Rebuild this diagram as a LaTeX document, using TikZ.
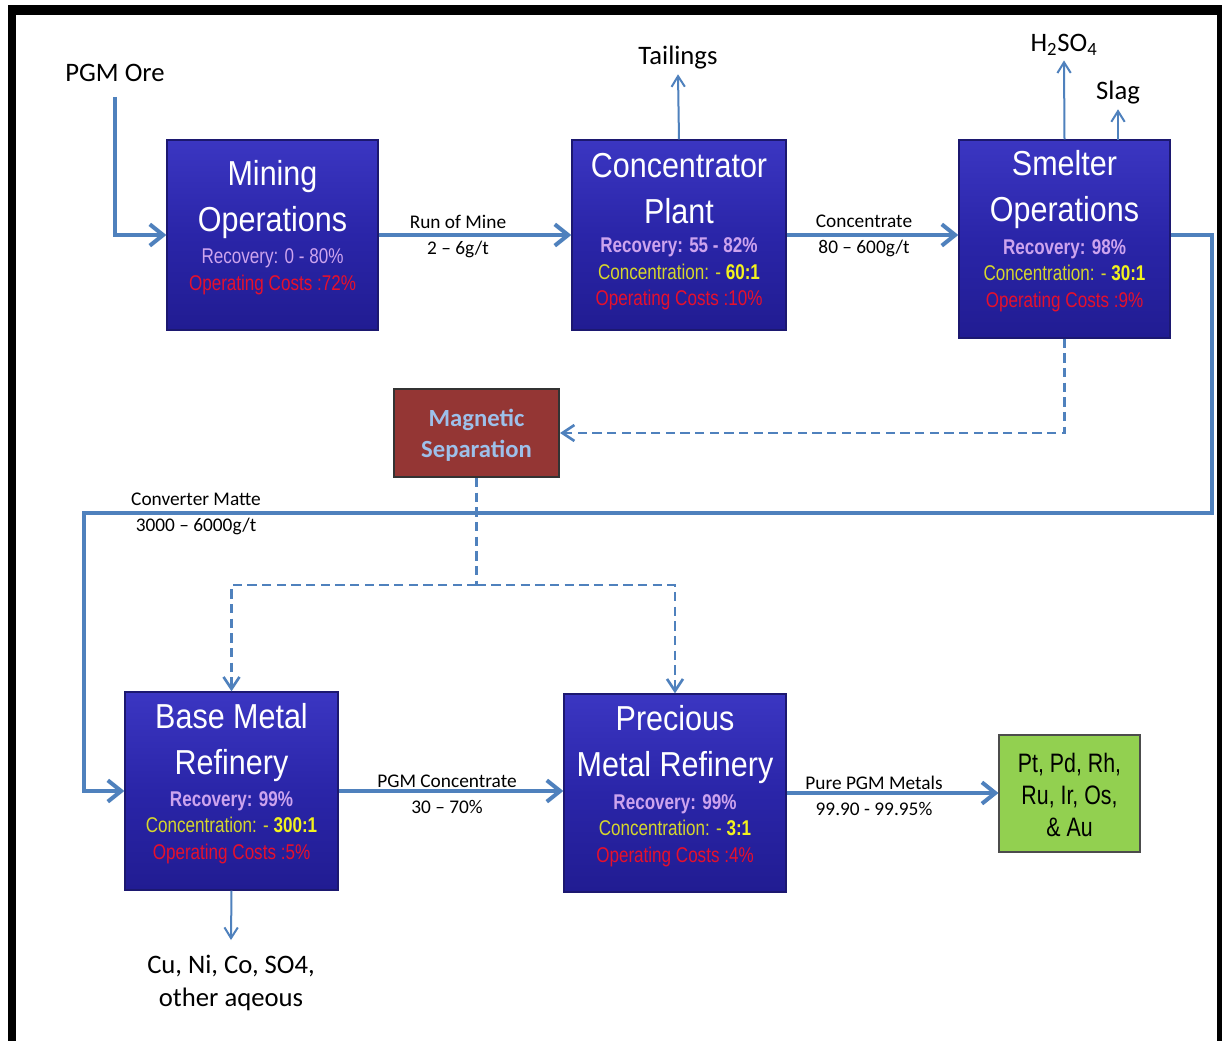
\documentclass[tikz,border=0pt]{standalone}
\usepackage{fontspec}
\setmainfont{Carlito}
\newfontfamily\titlefont[FakeStretch=0.88]{Liberation Sans}
\newfontfamily\subfont[FakeStretch=0.8]{Liberation Sans}
\usetikzlibrary{arrows.meta,calc}
\definecolor{flow}{HTML}{4F81BD}
\definecolor{boxtop}{HTML}{3B36C2}
\definecolor{boxmid}{HTML}{2A25A8}
\definecolor{boxbot}{HTML}{211C92}
\definecolor{boxedge}{HTML}{1C1870}
\definecolor{recov}{HTML}{CDA4EE}
\definecolor{concy}{HTML}{D6D62C}
\definecolor{concb}{HTML}{F2F21E}
\definecolor{opred}{HTML}{E6102C}
\definecolor{magfill}{HTML}{943634}
\definecolor{magtext}{HTML}{9DC0EA}
\definecolor{greenfill}{HTML}{92D050}
\tikzset{
  procbox/.style={draw=boxedge, line width=1pt, top color=boxtop, bottom color=boxbot, middle color=boxmid, inner sep=0pt},
  titletext/.style={text=white, align=center, font=\titlefont\fontsize{26}{34.5}\selectfont},
  subtext/.style={align=center, font=\subfont\fontsize{16}{20}\selectfont},
  flowlabel/.style={align=center, font=\fontsize{14.5}{19.5}\selectfont, text=black},
  outlabel/.style={align=center, font=\fontsize{20}{25}\selectfont, text=black},
  thickflow/.style={draw=flow, line width=3pt, -{Straight Barb[length=10pt,width=16pt]}},
  thinflow/.style={draw=flow, line width=1.5pt, -{Straight Barb[length=8pt,width=10pt]}},
  dashflow/.style={draw=flow, line width=2pt, dash pattern=on 7pt off 4pt, -{Straight Barb[length=9pt,width=12pt]}},
  dashline/.style={draw=flow, line width=2pt, dash pattern=on 7pt off 4pt}
}
\newcommand{\subblock}[3]{\textcolor{recov}{#1}\\\textcolor{concy}{#2}\\\textcolor{opred}{#3}}
\begin{document}
\begin{tikzpicture}[x=0.75pt,y=-0.75pt]
\fill[white] (0,0) rectangle (1222,1041);
\useasboundingbox (0,0) rectangle (1222,1041);
% frame
\fill[black] (8,5) rectangle (1222,15);
\fill[black] (8,5) rectangle (16,1041);
\fill[black] (1217,5) rectangle (1222,1041);

% boxes
\node[procbox, minimum width=158.25pt, minimum height=142.5pt] (mine) at (272.5,235) {};
\node[procbox, minimum width=160.5pt, minimum height=142.5pt] (conc) at (679,235) {};
\node[procbox, minimum width=158.25pt, minimum height=148.5pt] (smelt) at (1064.5,239) {};
\node[procbox, minimum width=159.75pt, minimum height=148.5pt] (base) at (231.5,791) {};
\node[procbox, minimum width=166.5pt, minimum height=148.5pt] (prec) at (675,793) {};
\node[draw=black!80, line width=1.5pt, fill=magfill, minimum width=123.75pt, minimum height=66pt, inner sep=0pt] (mag) at (476.5,433) {};
\node[draw=black!70, line width=0.8pt, fill=greenfill, minimum width=105.75pt, minimum height=87.75pt, inner sep=0pt] (green) at (1069.5,793.5) {};

% box texts
\node[titletext] (mineT) at (272.5,200) {Mining\\Operations};
\node[subtext] (mineS) at (272.5,272) {\textcolor{recov}{Recovery: 0 - 80\%}\\\textcolor{opred}{Operating Costs :72\%}};
\node[titletext] (concT) at (679,188.5) {Concentrator\\Plant};
\node[subtext] (concS) at (679,274) {\subblock{\bfseries Recovery: 55 - 82\%}{Concentration: - {\bfseries\color{concb}60:1}}{Operating Costs :10\%}};
\node[titletext] (smeltT) at (1064.5,190) {Smelter\\Operations};
\node[subtext] (smeltS) at (1064.5,275.5) {\subblock{\bfseries Recovery: 98\%}{Concentration: - {\bfseries\color{concb}30:1}}{Operating Costs :9\%}};
\node[titletext] (baseT) at (231.5,743) {Base Metal\\Refinery};
\node[subtext] (baseS) at (231.5,827.5) {\subblock{\bfseries Recovery: 99\%}{Concentration: - {\bfseries\color{concb}300:1}}{Operating Costs :5\%}};
\node[titletext] (precT) at (675,745) {Precious\\Metal Refinery};
\node[subtext] (precS) at (675,830.5) {\subblock{\bfseries Recovery: 99\%}{Concentration: - {\bfseries\color{concb}3:1}}{Operating Costs :4\%}};
\node[align=center, text=magtext, font=\bfseries\fontsize{18.5}{23}\selectfont] (magT) at (476.5,435) {Magnetic\\Separation};
\node[align=center, text=black, font=\subfont\fontsize{20}{24}\selectfont] (greenT) at (1069.5,795) {Pt, Pd, Rh,\\Ru, Ir, Os,\\\& Au};

% outside labels
\node[outlabel] (ore) at (115,73) {PGM Ore};
\node[outlabel] (tail) at (678,58) {Tailings};
\node[outlabel] (h2so4) at (1064,45) {H\textsubscript{2}SO\textsubscript{4}};
\node[outlabel] (slag) at (1118,93) {Slag};
\node[outlabel] (cu) at (231,983) {Cu, Ni, Co, SO4,\\other aqeous};

% flow labels
\node[flowlabel] (l1) at (458,237) {Run of Mine\\2 -- 6g/t};
\node[flowlabel] (l2) at (864,236) {Concentrate\\80 -- 600g/t};
\node[flowlabel] (l3) at (196,514) {Converter Matte\\3000 -- 6000g/t};
\node[flowlabel] (l4) at (447,794) {PGM Concentrate\\30 -- 70\%};
\node[flowlabel] (l5) at (874,796) {Pure PGM Metals\\99.90 - 99.95\%};

% coordinates
\coordinate (oreS) at (115,97);
\coordinate (cR) at (1212,513);
\coordinate (cL) at (84,513);
\coordinate (split) at (476.5,585);
\coordinate (slagB) at (1118,140);
\coordinate (cuT) at (231,940);

% thick flows
\draw[thickflow] (oreS) |- (mine.west);
\draw[thickflow] (mine.east) -- (conc.west);
\draw[thickflow] (conc.east) -- (smelt.west |- conc.east);
\draw[thickflow] (smelt.east |- conc.east) -| (cR) -- (cL) |- (base.west);
\draw[thickflow] (base.east) -- (prec.west |- base.east);
\draw[thickflow] (prec.east) -- (green.west |- prec.east);

% thin flows
\draw[thinflow] (conc.north) -- (tail.south);
\draw[thinflow] (smelt.north) -- (h2so4.south);
\draw[thinflow] (slagB) -- (slag.south);
\draw[thinflow] (base.south) -- (cuT);

% dashed
\draw[dashflow] (smelt.south) |- (mag.east);
\draw[dashline] (mag.south) -- (split);
\draw[dashflow] (split) -| (base.north);
\draw[dashflow] (split) -| (prec.north);
\end{tikzpicture}
\end{document}
